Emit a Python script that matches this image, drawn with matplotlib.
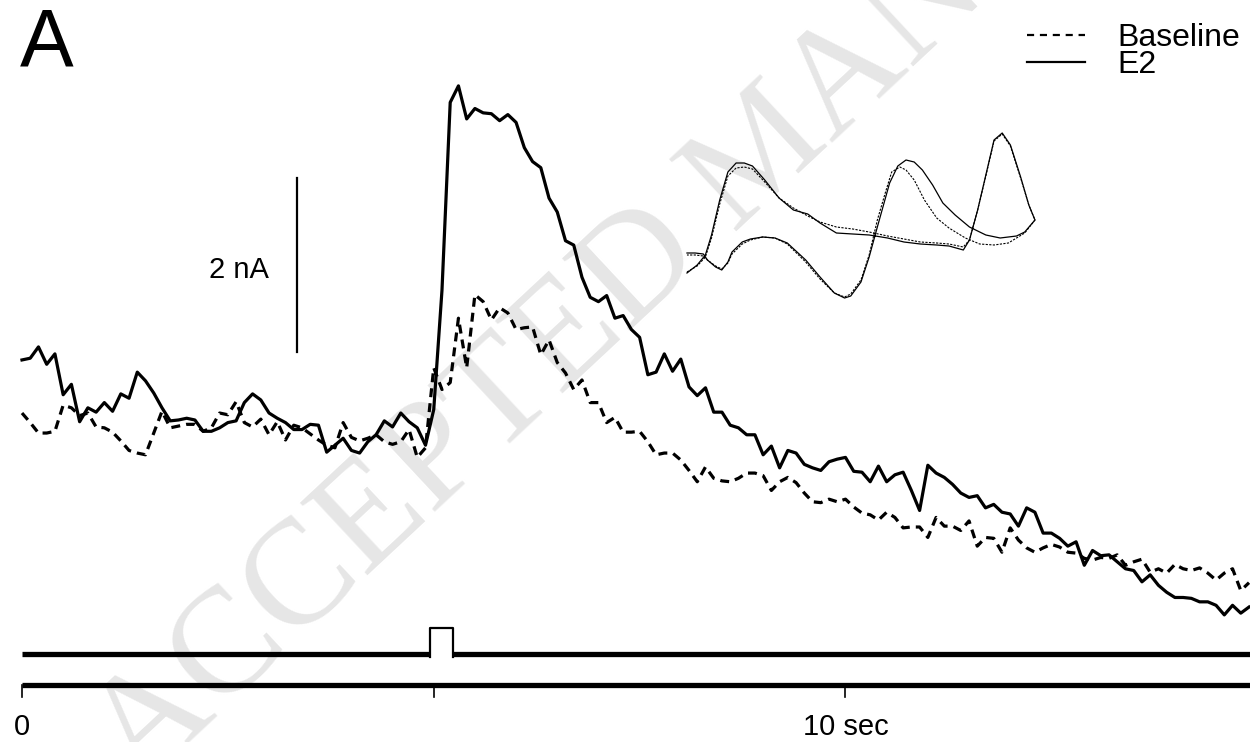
import numpy as np
import matplotlib.pyplot as plt

# ---- data ----
dt = 0.1  # s per sample
# E2 current (nA), relative to pre-stimulus level
e2 = [0.92, 0.94, 1.07, 0.87, 0.99, 0.52, 0.64, 0.21, 0.37, 0.32,
      0.43, 0.33, 0.53, 0.48, 0.78, 0.68, 0.54, 0.37, 0.22, 0.23,
      0.25, 0.23, 0.10, 0.10, 0.14, 0.20, 0.22, 0.43, 0.53, 0.46,
      0.31, 0.25, 0.20, 0.12, 0.12, 0.18, 0.17, -0.14, -0.06, 0.02,
      -0.12, -0.15, -0.02, 0.06, 0.22, 0.15, 0.31, 0.21, 0.14, -0.06,
      0.35, 1.72, 3.88, 4.07, 3.69, 3.81, 3.76, 3.75, 3.67, 3.74,
      3.65, 3.36, 3.20, 3.13, 2.78, 2.62, 2.29, 2.24, 1.87, 1.64,
      1.59, 1.66, 1.40, 1.43, 1.27, 1.18, 0.75, 0.78, 0.99, 0.79,
      0.93, 0.61, 0.51, 0.60, 0.32, 0.32, 0.17, 0.14, 0.06, 0.06,
      -0.17, -0.07, -0.32, -0.12, -0.15, -0.28, -0.32, -0.35, -0.25, -0.22,
      -0.20, -0.36, -0.37, -0.48, -0.30, -0.48, -0.40, -0.37, -0.58, -0.81,
      -0.29, -0.38, -0.43, -0.51, -0.61, -0.66, -0.64, -0.78, -0.74, -0.83,
      -0.85, -0.99, -0.78, -0.83, -1.07, -1.07, -1.13, -1.22, -1.17, -1.44,
      -1.27, -1.33, -1.32, -1.40, -1.48, -1.50, -1.63, -1.55, -1.67, -1.75,
      -1.81, -1.81, -1.82, -1.86, -1.86, -1.90, -2.01, -1.90, -1.99, -1.92]
baseline = [0.31, 0.20, 0.08, 0.08, 0.10, 0.40, 0.37, 0.28, 0.31, 0.15,
            0.14, 0.09, -0.01, -0.12, -0.15, -0.17, 0.08, 0.33, 0.14, 0.16,
            0.18, 0.18, 0.10, 0.14, 0.31, 0.29, 0.44, 0.20, 0.15, 0.24,
            0.06, 0.21, 0.00, 0.17, 0.14, 0.07, 0.00, -0.06, -0.09, 0.20,
            0.03, -0.01, 0.02, 0.06, -0.02, -0.05, -0.02, 0.12, -0.20, -0.09,
            0.83, 0.58, 0.66, 1.40, 0.83, 1.67, 1.59, 1.38, 1.52, 1.46,
            1.27, 1.29, 1.30, 0.98, 1.15, 0.89, 0.77, 0.58, 0.69, 0.43,
            0.43, 0.20, 0.26, 0.09, 0.09, 0.10, -0.02, -0.17, -0.15, -0.15,
            -0.23, -0.35, -0.48, -0.31, -0.44, -0.47, -0.48, -0.44, -0.38, -0.38,
            -0.41, -0.58, -0.48, -0.43, -0.49, -0.61, -0.71, -0.72, -0.68, -0.71,
            -0.68, -0.77, -0.84, -0.86, -0.92, -0.83, -0.89, -1.01, -1.00, -1.00,
            -1.12, -0.89, -0.99, -0.99, -1.04, -0.93, -1.22, -1.12, -1.13, -1.29,
            -1.01, -1.15, -1.24, -1.29, -1.24, -1.20, -1.23, -1.29, -1.30, -1.36,
            -1.38, -1.35, -1.36, -1.32, -1.44, -1.40, -1.37, -1.52, -1.48, -1.53,
            -1.43, -1.48, -1.50, -1.47, -1.53, -1.61, -1.53, -1.48, -1.73, -1.64]

# inset cyclic voltammograms (potential V, current arb. units)
cv_e2_v = [-0.40, -0.35, -0.31, -0.28, -0.24, -0.20, -0.16, -0.12, -0.08, -0.02,
           0.05, 0.12, 0.19, 0.25, 0.33, 0.41, 0.49, 0.58, 0.66, 0.74,
           0.82, 0.88, 0.95, 0.98, 1.02, 1.06, 1.10, 1.14, 1.18, 1.23,
           1.27, 1.30, 1.25, 1.21, 1.13, 1.06, 0.98, 0.91, 0.85, 0.80,
           0.75, 0.71, 0.67, 0.63, 0.59, 0.56, 0.53, 0.49, 0.45, 0.40,
           0.37, 0.32, 0.25, 0.18, 0.09, 0.03, -0.03, -0.09, -0.13, -0.18,
           -0.20, -0.23, -0.26, -0.30, -0.32, -0.36, -0.40]
cv_e2_i = [-1.3, -0.5, 0.5, 2.5, 6.0, 8.8, 9.7, 9.7, 9.4, 8.0,
           6.2, 5.0, 4.6, 3.7, 2.7, 2.6, 2.5, 2.2, 1.8, 1.6,
           1.5, 1.4, 1.0, 2.0, 5.0, 8.5, 12.0, 12.7, 11.5, 8.3,
           5.5, 4.0, 2.8, 2.4, 2.2, 2.5, 3.3, 4.5, 5.7, 7.5,
           9.0, 9.8, 10.0, 9.4, 7.7, 5.5, 3.3, 0.3, -2.2, -3.6,
           -3.8, -3.3, -1.7, 0.0, 1.7, 2.2, 2.3, 2.1, 1.8, 0.8,
           -0.2, -1.0, -0.7, 0.0, 0.6, 0.7, 0.7]
cv_base_v = [-0.40, -0.35, -0.31, -0.28, -0.24, -0.20, -0.16, -0.12, -0.08, -0.02,
             0.05, 0.12, 0.19, 0.25, 0.33, 0.41, 0.49, 0.58, 0.66, 0.74,
             0.82, 0.88, 0.95, 0.98, 1.02, 1.06, 1.10, 1.14, 1.18, 1.23,
             1.27, 1.30, 1.25, 1.17, 1.10, 1.03, 0.96, 0.88, 0.82, 0.76,
             0.71, 0.67, 0.64, 0.60, 0.57, 0.53, 0.49, 0.45, 0.40, 0.37,
             0.32, 0.25, 0.18, 0.09, 0.03, -0.03, -0.09, -0.13, -0.18, -0.20,
             -0.23, -0.26, -0.30, -0.32, -0.36, -0.40]
cv_base_i = [-1.2, -0.6, 0.3, 2.2, 5.6, 8.4, 9.2, 9.3, 9.1, 7.8,
             6.2, 5.2, 4.4, 3.8, 3.3, 3.1, 2.8, 2.4, 2.1, 1.8,
             1.7, 1.6, 1.3, 2.0, 5.0, 8.4, 11.9, 12.6, 11.4, 8.2,
             5.5, 4.0, 2.7, 1.7, 1.5, 1.6, 2.2, 3.2, 4.2, 6.0,
             8.0, 9.0, 9.3, 8.8, 6.8, 4.0, 0.5, -2.0, -3.4, -3.7,
             -3.3, -1.9, -0.2, 1.6, 2.2, 2.3, 2.0, 1.6, 0.6, -0.3,
             -0.9, -0.6, 0.0, 0.4, 0.5, 0.5]

stim_on, stim_len = 4.95, 0.28   # s
ticks = [0, 5, 10]
tick_labels = {0: "0", 10: "10 sec"}
scale_nA = 2

t = np.arange(len(e2)) * dt

plt.rcParams['font.family'] = ['Liberation Sans', 'DejaVu Sans']

fig = plt.figure(figsize=(12.5, 7.42), dpi=100)
ax = fig.add_axes([0, 0, 1, 1])
ax.set_xlim(-0.267, 14.912)
ax.set_ylim(-3.471, 5.057)
ax.axis('off')

# watermark
ax.text(765 / 1250, 1 - 155 / 742, "ACCEPTED MANUSCRIPT", transform=ax.transAxes,
        family='Liberation Serif', fontsize=108, color='#e6e6e6',
        rotation=43, ha='center', va='center', zorder=0)

# traces
ax.plot(t, baseline, color='black', lw=2.3, dashes=(2.8, 1.9), zorder=3)
ax.plot(t, e2, color='black', lw=2.3, zorder=3)

# scale bar
ax.plot([3.34, 3.34], [1.01, 1.01 + scale_nA], color='black', lw=1.6)
ax.text(3.0, 1.95, f"{scale_nA} nA", fontsize=21, ha='right', va='center')

# stimulation marker
y_stim, y_pulse = -2.46, -2.16
ax.plot([t[0], stim_on], [y_stim, y_stim], color='black', lw=3.8, solid_capstyle='butt')
ax.plot([stim_on + stim_len, t[-1] + 0.1], [y_stim, y_stim], color='black', lw=3.8,
        solid_capstyle='butt')
ax.plot([stim_on, stim_on, stim_on + stim_len, stim_on + stim_len],
        [y_stim - 0.03, y_pulse, y_pulse, y_stim - 0.03], color='black', lw=1.6)

# time axis
y_ax = -2.816
ax.plot([t[0], t[-1] + 0.1], [y_ax, y_ax], color='black', lw=3.8, solid_capstyle='butt')
for tk in ticks:
    ax.plot([tk, tk], [y_ax, y_ax - 0.14], color='black', lw=1.2)
    if tk in tick_labels:
        ax.text(tk, -3.30, tick_labels[tk], fontsize=21, ha='center', va='center')

# panel label
ax.text(0.016, 1 - 66 / 742, "A", transform=ax.transAxes, fontsize=58,
        ha='left', va='baseline')

# legend
lx0, lx1 = 1027 / 1250, 1085 / 1250
ax.plot([lx0, lx1], [1 - 35 / 742] * 2, transform=ax.transAxes, color='black', lw=1.6,
        dashes=(3.2, 2.6))
ax.plot([lx0, lx1], [1 - 62 / 742] * 2, transform=ax.transAxes, color='black', lw=1.6)
ax.text(1117 / 1250, 1 - 46 / 742, "Baseline", transform=ax.transAxes, fontsize=23,
        ha='left', va='baseline')
ax.text(1117 / 1250, 1 - 73 / 742, "E2", transform=ax.transAxes, fontsize=23,
        ha='left', va='baseline')

# inset CVs
ins = fig.add_axes([680 / 1250, 1 - 305 / 742, 365 / 1250, 185 / 742])
ins.set_xlim(-0.434, 1.349)
ins.set_ylim(-4.5, 14)
ins.axis('off')
ins.patch.set_alpha(0)
ins.plot(cv_base_v, cv_base_i, color='black', lw=0.8, dashes=(2, 1.2))
ins.plot(cv_e2_v, cv_e2_i, color='black', lw=0.9)

fig.savefig('out.png', dpi=100)
